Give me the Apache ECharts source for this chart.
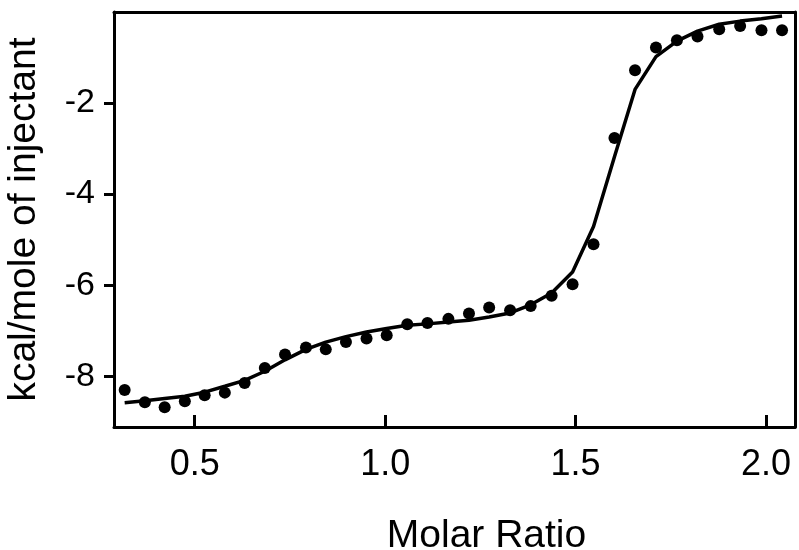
<!DOCTYPE html>
<html>
<head>
<meta charset="utf-8">
<script src="https://cdn.jsdelivr.net/npm/echarts@6/dist/echarts.min.js"></script>
<style>
html,body{margin:0;padding:0;background:#fff;}
#chart{width:799px;height:550px;}
</style>
</head>
<body>
<div id="chart"></div>
<script>
// Molar ratio of each injection
const molarRatio = [0.316, 0.369, 0.421, 0.474, 0.526, 0.579, 0.631, 0.684, 0.737, 0.792,
  0.844, 0.897, 0.951, 1.004, 1.058, 1.111, 1.166, 1.220, 1.273, 1.328,
  1.382, 1.437, 1.492, 1.547, 1.602, 1.656, 1.711, 1.766, 1.820, 1.877,
  1.932, 1.988, 2.042];
// Integrated heats (kcal/mole of injectant), observed points
const heatObserved = [-8.30, -8.57, -8.68, -8.55, -8.42, -8.36, -8.15, -7.82, -7.52, -7.37,
  -7.41, -7.25, -7.17, -7.10, -6.86, -6.83, -6.74, -6.62, -6.49, -6.55,
  -6.46, -6.23, -5.98, -5.10, -2.77, -1.28, -0.78, -0.62, -0.54, -0.38,
  -0.31, -0.40, -0.40];
// Fitted model curve values at the same molar ratios
const heatFit = [-8.58, -8.54, -8.49, -8.44, -8.35, -8.22, -8.09, -7.89, -7.64, -7.41,
  -7.25, -7.13, -7.03, -6.95, -6.88, -6.85, -6.81, -6.77, -6.70, -6.61,
  -6.43, -6.17, -5.71, -4.71, -3.18, -1.70, -0.98, -0.64, -0.42, -0.27,
  -0.20, -0.15, -0.09];
// Tick labels
const xTickValues = [0.5, 1.0, 1.5, 2.0];
const yTickValues = [-8, -6, -4, -2];
const xRange = [0.288, 2.076];
const yRange = [-9.115, 0];
const xTitle = 'Molar Ratio';
const yTitle = 'kcal/mole of injectant';

const FONT = 'Liberation Sans, Arial, Helvetica, sans-serif';
const chart = echarts.init(document.getElementById('chart'), null, {renderer: 'canvas'});

const obsData = molarRatio.map((x, i) => [x, heatObserved[i]]);
const fitData = molarRatio.map((x, i) => [x, heatFit[i]]);

const lineStyle = {color: '#000', width: 3};

chart.setOption({
  animation: false,
  backgroundColor: '#fff',
  grid: {left: 114, right: 4, top: 12, bottom: 123, containLabel: false, outerBoundsMode: 'none'},
  xAxis: [
    {
      type: 'value', position: 'bottom', min: xRange[0], max: xRange[1],
      axisLine: {show: true, onZero: false, lineStyle: lineStyle},
      axisTick: {show: true, inside: true, length: 12, customValues: xTickValues, lineStyle: {color: '#000', width: 3}},
      axisLabel: {show: true, customValues: xTickValues, margin: 20, color: '#000', fontSize: 36, fontFamily: FONT,
        formatter: v => Number(v).toFixed(1)},
      splitLine: {show: false},
      name: xTitle, nameLocation: 'middle', nameGap: 90,
      nameTextStyle: {color: '#000', fontSize: 39, fontFamily: FONT, padding: [0, 0, 0, 64]}
    },
    {
      type: 'value', position: 'top', min: xRange[0], max: xRange[1],
      axisLine: {show: true, onZero: false, lineStyle: lineStyle},
      axisTick: {show: false},
      axisLabel: {show: false},
      splitLine: {show: false}
    }
  ],
  yAxis: [
    {
      type: 'value', position: 'left', min: yRange[0], max: yRange[1],
      axisLine: {show: true, onZero: false, lineStyle: lineStyle},
      axisTick: {show: true, inside: false, length: 10, customValues: yTickValues, lineStyle: {color: '#000', width: 3}},
      axisLabel: {show: true, customValues: yTickValues, margin: 19, color: '#000', fontSize: 34, fontFamily: FONT},
      splitLine: {show: false},
      name: yTitle, nameLocation: 'middle', nameGap: 70, nameRotate: 90,
      nameTextStyle: {color: '#000', fontSize: 39, fontFamily: FONT}
    },
    {
      type: 'value', position: 'right', min: yRange[0], max: yRange[1],
      axisLine: {show: true, onZero: false, lineStyle: lineStyle},
      axisTick: {show: false}, axisLabel: {show: false}, splitLine: {show: false}
    }
  ],
  series: [
    {
      type: 'line', name: 'fit', data: fitData, xAxisIndex: 0, yAxisIndex: 0,
      showSymbol: false, symbol: 'none', smooth: false,
      lineStyle: {color: '#000', width: 3.5}, z: 2
    },
    {
      type: 'scatter', name: 'data', data: obsData, xAxisIndex: 0, yAxisIndex: 0,
      symbol: 'circle', symbolSize: 12, itemStyle: {color: '#000', opacity: 1}, z: 3
    }
  ]
});
</script>
</body>
</html>
